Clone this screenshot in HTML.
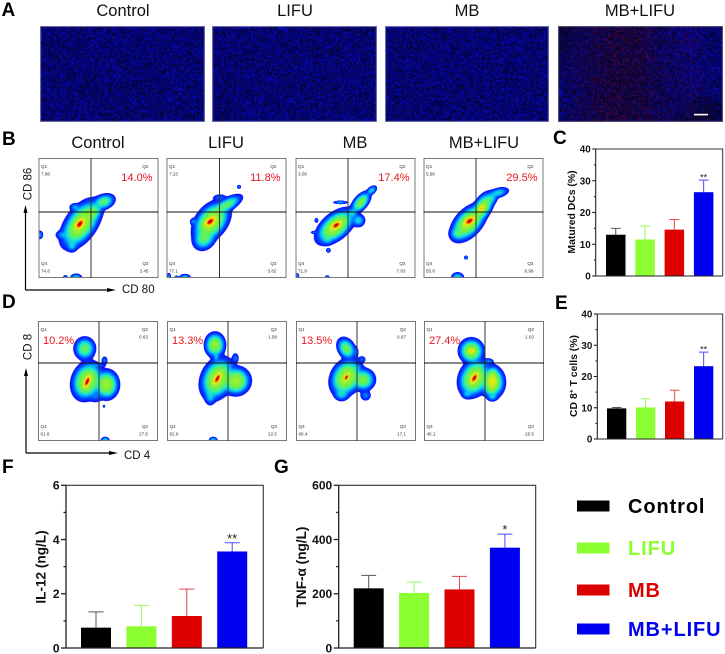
<!DOCTYPE html>
<html lang="en">
<head>
<meta charset="utf-8">
<title>Flow cytometry and cytokine figure</title>
<style>
html,body{margin:0;padding:0;background:#fff;}
#stage{position:relative;width:725px;height:654px;overflow:hidden;background:#fff;font-family:"Liberation Sans",sans-serif;}
canvas{position:absolute;display:block;}
svg{position:absolute;left:0;top:0;}
text{font-family:"Liberation Sans",sans-serif;}
</style>
</head>
<body>
<div id="stage">
<svg id="svg" width="725" height="654" viewBox="0 0 725 654">
  <g fill="#000" font-weight="bold" font-size="19">
    <text x="1.5" y="16">A</text>
    <text x="2" y="145">B</text>
    <text x="553" y="144">C</text>
    <text x="2" y="308">D</text>
    <text x="555" y="309">E</text>
    <text x="2" y="473">F</text>
    <text x="274" y="473">G</text>
  </g>
  <g fill="#111" font-size="16.5" text-anchor="middle">
    <text x="123" y="16">Control</text>
    <text x="295" y="16">LIFU</text>
    <text x="467" y="16">MB</text>
    <text x="640" y="16">MB+LIFU</text>
    <text x="98" y="148">Control</text>
    <text x="226" y="148">LIFU</text>
    <text x="355" y="148">MB</text>
    <text x="484" y="148">MB+LIFU</text>
  </g>
  <g fill="#111" font-size="11.5">
    <text transform="translate(31.5,184) rotate(-90)" text-anchor="middle">CD 86</text>
    <text x="122" y="293">CD 80</text>
    <text transform="translate(31.5,347) rotate(-90)" text-anchor="middle">CD 8</text>
    <text x="124" y="459">CD 4</text>
  </g>
  <g stroke="#000" stroke-width="1.2" fill="#000">
    <path d="M25.5 290V212M25.5 290H108" fill="none"/>
    <path d="M25.5 205l-2 8h4zM116 290l-9-2v4z" stroke="none"/>
    <path d="M26 453V375M26 453H110" fill="none"/>
    <path d="M26 368l-2 8h4zM118 453l-9-2v4z" stroke="none"/>
  </g>
  <g id="flow-overlay"></g>
  <g id="bars"></g>
  <rect x="694" y="113.8" width="14" height="1.6" fill="#fff"/>
  <g>
    <rect x="577" y="500.5" width="32.5" height="11" fill="#000"/>
    <rect x="577" y="542.5" width="32.5" height="11" fill="#8cff32"/>
    <rect x="577" y="584.5" width="32.5" height="11" fill="#dc0000"/>
    <rect x="577" y="623.5" width="32.5" height="11" fill="#0000f0"/>
    <g font-weight="bold" font-size="20" letter-spacing="0.9">
      <text x="628" y="513" fill="#000">Control</text>
      <text x="628" y="555" fill="#8cff32">LIFU</text>
      <text x="628" y="597" fill="#dc0000">MB</text>
      <text x="628" y="636" fill="#0000f0">MB+LIFU</text>
    </g>
  </g>
</svg>
</div>
<script>
/* ---------- bar chart data ---------- */
var groupNames = ["control", "lifu", "mb", "mb-lifu"];
var cMeans = [13, 11.5, 14.6, 26.4];
var cErrors = [2, 4.2, 3.2, 3.8];
var cTicks = [0, 10, 20, 30, 40];
var eMeans = [9.8, 10.1, 12, 23.3];
var eErrors = [0.3, 2.8, 3.6, 4.5];
var eTicks = [0, 10, 20, 30, 40];
var fMeans = [0.75, 0.8, 1.18, 3.56];
var fErrors = [0.58, 0.77, 0.99, 0.32];
var fTicks = [0, 2, 4, 6];
var gMeans = [220, 203, 216, 370];
var gErrors = [48, 40, 48, 50];
var gTicks = [0, 200, 400, 600];

/* ---------- flow cytometry data: [x%, y%, sdLong, sdShort, angle, level] ---------- */
var flowBControl = [[34,45,4,2.2,50,1],[35,45,12,6.5,55,.5],[54,63.5,5.5,3.6,20,.3],[45,55,5,4,45,.3],[27.5,27,3,3.4,0,.18],[30,59,3,2.2,0,.16],[19,36,3.5,2.5,0,.14],[0.5,36,2,2.4,0,.16],[31,.5,3,2,0,.2],[22,.5,1.4,1.4,0,.14]];
var flowBLifu = [[36,47,4,2.2,40,1],[37,47,10,6.5,52,.5],[50,61,8,3.2,30,.3],[31,33,6,5,50,.3],[60,76,1.2,1.2,0,.14],[22,47,2,2,0,.14],[44,67,4,2,0,.12],[15,.8,3,1.7,0,.18],[1.5,1,1.3,2.2,0,.15],[8,.3,1.3,1.3,0,.14]];
var flowBMb = [[33.5,44,3.6,1.9,35,1],[33,43,10,5.5,40,.5],[54,63,6,3.2,50,.36],[63,73,3.2,2,40,.2],[52,48,3.5,3.5,0,.2],[47,54,3,3,0,.18],[27,23,1.4,1.4,0,.14],[26,32,3,3,70,.16],[37,63,4,1,0,.16],[17,48,1.2,1.5,0,.12],[15,38,2,.9,0,.12],[26,.6,1.4,1.2,0,.14],[1,2,1.2,1.4,0,.14]];
var flowBMbLifu = [[38,47.5,4,2.2,35,1],[37,46,9.5,5.5,48,.5],[48,58,2.8,2,50,.72],[49,59,7.5,4,60,.42],[62,71,5.5,2.6,15,.2],[56,66,4,3,50,.2],[28,37,4,3.5,0,.22],[35,17,1.2,1.2,0,.14],[28,.5,3.2,2.6,0,.22]];
var flowDControl = [[41,49.5,4.4,1.7,65,1],[41,50,8.5,6.5,70,.5],[57,47,5.5,6.5,0,.46],[39,77,5,5.4,0,.32],[55.5,67,1.8,2.5,0,.13],[49,63,5,1.5,0,.12],[55,29,.8,1,0,.12],[56,.5,2.2,1.8,0,.22],[48,37,4,3.5,0,.12]];
var flowDLifu = [[42,52,4.2,1.7,60,1],[42,52,9.5,6.8,65,.5],[57.5,50,6.4,6.2,20,.46],[40,80,4.6,5.6,0,.42],[41,70,1.8,3,0,.16],[57,69,2,3,0,.13],[51,63,4,1.5,0,.12],[36,37,3,4.5,0,.18],[38.5,.5,2.2,1.8,0,.22]];
var flowDMb = [[42,53,2.6,1.2,55,1],[42,53,8.5,6.5,60,.5],[56,51,5.5,5.2,10,.36],[42,77,4,5.5,30,.33],[50,74,1.5,3.5,0,.12],[55,68,2.2,2,0,.12],[51,62,3,1.5,0,.12],[38,39,4,3.5,0,.2],[58,38,3,3,0,.14]];
var flowDMbLifu = [[42,52.5,3.8,1.8,60,1],[42,52.5,8.5,6.5,65,.5],[57,50,6,3,85,.6],[57,49,5.5,7,0,.46],[39.5,75,2.2,1.8,0,.68],[39.5,75,5.5,5.6,20,.45],[54,66,2.8,2,0,.14],[47,63,4,1.5,0,.14],[36,39,3,2.5,0,.16],[57,37,3,2.5,0,.18]];

var topRowPercents = ["14.0%", "11.8%", "17.4%", "29.5%"];
var bottomRowPercents = ["10.2%", "13.3%", "13.5%", "27.4%"];
var topQ1 = ["7.88", "7.23", "3.00", "5.90"];
var topQ3 = ["3.45", "3.82", "7.83", "8.99"];
var topQ4 = ["74.8", "77.1", "71.9", "55.6"];
var bottomQ2 = ["0.63", "1.58", "0.97", "1.03"];
var bottomQ3 = ["27.6", "22.5", "17.1", "26.5"];
var bottomQ4 = ["61.6", "62.6", "68.4", "45.1"];

var NS = "http://www.w3.org/2000/svg";
var stage = document.getElementById("stage");
var barsRoot = document.getElementById("bars");
var flowRoot = document.getElementById("flow-overlay");

function svgEl(parent, tag, attrs) {
  var el = document.createElementNS(NS, tag);
  for (var k in attrs) el.setAttribute(k, attrs[k]);
  parent.appendChild(el);
  return el;
}

/* ---------- microscopy noise panels ---------- */
function prng(seed) {
  return function () {
    seed |= 0; seed = seed + 0x6D2B79F5 | 0;
    var t = Math.imul(seed ^ seed >>> 15, 1 | seed);
    t = t + Math.imul(t ^ t >>> 7, 61 | t) ^ t;
    return ((t ^ t >>> 14) >>> 0) / 4294967296;
  };
}
function microscopy(x, y, w, h, seed, name, merged) {
  var c = document.createElement("canvas");
  c.width = w; c.height = h;
  c.style.left = x + "px"; c.style.top = y + "px";
  
  
  stage.insertBefore(c, stage.firstChild);
  var ctx = c.getContext("2d");
  var img = ctx.createImageData(w, h);
  var rnd = prng(seed);
  for (var j = 0; j < h; j++) {
    for (var i = 0; i < w; i++) {
      var p = (j * w + i) * 4;
      var u = i / w, v = j / h;
      var r1 = rnd(), r2 = rnd();
      var b = 35 + 175 * Math.pow(r1, 1.3);
      var r = 14 * r2 * r2;
      if (merged) {
        var zone = Math.exp(-Math.pow((u - 0.38) / 0.3, 2));
        var hot = Math.exp(-Math.pow((u - 0.8) / 0.08, 2));
        var dark = Math.exp(-Math.pow((u - 0.88) / 0.14, 2) - Math.pow((v - 0.95) / 0.2, 2));
        var corner = Math.exp(-Math.pow(u / 0.1, 2) - Math.pow(v / 0.3, 2));
        b = b * (1 - 0.45 * zone) * (1 - 0.5 * dark) * (1 - 0.5 * corner);
        r = r + (zone * 85 + hot * 45) * Math.pow(r2, 5) + zone * 6;
      }
      img.data[p] = r;
      img.data[p + 1] = 2 + 8 * r1 * r1;
      img.data[p + 2] = b;
      img.data[p + 3] = 255;
    }
  }
  ctx.putImageData(img, 0, 0);
  ctx.strokeStyle = merged ? "#55557a" : "#7474b8";
  ctx.lineWidth = 1;
  ctx.strokeRect(0.5, 0.5, w - 1, h - 1);
}
microscopy(40, 26, 165, 96, 11, "micrograph-control", false);
microscopy(212, 26, 165, 96, 23, "micrograph-lifu", false);
microscopy(385, 26, 164, 96, 37, "micrograph-mb", false);
microscopy(558, 26, 165, 96, 51, "micrograph-mb-lifu", true);

/* ---------- density plots ---------- */
var colorStops = [[.05,10,10,255],[.11,0,80,255],[.17,0,190,255],[.24,50,240,170],[.33,110,240,70],[.55,190,240,40],[.72,255,225,0],[.86,255,110,0],[1,215,0,0]];
function densityColor(f) {
  if (f <= colorStops[0][0]) return colorStops[0];
  for (var i = 1; i < colorStops.length; i++) {
    if (f <= colorStops[i][0]) {
      var a = colorStops[i - 1], b = colorStops[i];
      var t = (f - a[0]) / (b[0] - a[0]);
      return [f, a[1] + (b[1] - a[1]) * t, a[2] + (b[2] - a[2]) * t, a[3] + (b[3] - a[3]) * t];
    }
  }
  return colorStops[colorStops.length - 1];
}
function drawDensity(x, y, w, h, comps, name) {
  var S = 2, P = 2.5;
  var c = document.createElement("canvas");
  c.width = w * S; c.height = h * S;
  c.style.left = x + "px"; c.style.top = y + "px";
  c.style.width = w + "px"; c.style.height = h + "px";
  c.style.filter = "blur(0.3px)";
  
  
  stage.insertBefore(c, stage.firstChild);
  var ctx = c.getContext("2d");
  var img = ctx.createImageData(c.width, c.height);
  var prepared = comps.map(function (k) {
    var an = k[4] * Math.PI / 180;
    return [k[0], k[1], k[2], k[3], Math.cos(an), Math.sin(an), k[5]];
  });
  for (var j = 0; j < c.height; j++) {
    for (var i = 0; i < c.width; i++) {
      var dx = (i + 0.5) / c.width * 100;
      var dy = 100 - (j + 0.5) / c.height * 100;
      var s = 0;
      for (var n = 0; n < prepared.length; n++) {
        var g = prepared[n];
        var ex = dx - g[0], ey = dy - g[1];
        var a = (ex * g[4] + ey * g[5]) / g[2];
        var b = (-ex * g[5] + ey * g[4]) / g[3];
        s += Math.pow(g[6] * Math.exp(-0.5 * (a * a + b * b)), P);
      }
      var f = Math.pow(s, 1 / P);
      if (f < 0.045) continue;
      var col = densityColor(Math.min(f, 1));
      var p = (j * c.width + i) * 4;
      img.data[p] = col[1];
      img.data[p + 1] = col[2];
      img.data[p + 2] = col[3];
      img.data[p + 3] = Math.min(1, (f - 0.045) / 0.01) * 255;
    }
  }
  ctx.putImageData(img, 0, 0);
}
function smallText(x, y, str, anchor, name) {
  var t = svgEl(flowRoot, "text", {x: x, y: y, "font-size": 4.6, fill: "#333", "text-anchor": anchor});
  t.textContent = str;
  
  
}
function flowPlot(x, y, vx, hy, comps, idx, row, pct, q1, q2, q3, q4) {
  var w = 120, h = 120, id = row + "-" + groupNames[idx];
  drawDensity(x, y, w, h, comps, "density-" + id);
  var frame = svgEl(flowRoot, "rect", {x: x + .5, y: y + .5, width: w - 1, height: h - 1, fill: "none", stroke: "#777", "stroke-width": 1});
  
  
  var vLine = svgEl(flowRoot, "line", {x1: vx, x2: vx, y1: y, y2: y + h, stroke: "#333", "stroke-width": 1});
  
  
  var hLine = svgEl(flowRoot, "line", {x1: x, x2: x + w, y1: hy, y2: hy, stroke: "#111", "stroke-width": 1});
  
  
  var top = row === "b";
  var r = x + w - 10;
  smallText(x + 2.5, y + 10, "Q1", "start", "q1-label-" + id);
  smallText(r, y + 10, "Q2", "end", "q2-label-" + id);
  smallText(x + 2.5, y + 107, "Q4", "start", "q4-label-" + id);
  smallText(r, y + 107, "Q3", "end", "q3-label-" + id);
  if (q1) smallText(x + 2.5, y + 17.5, q1, "start", "q1-value-" + id);
  if (q2) smallText(r, y + 17.5, q2, "end", "q2-value-" + id);
  smallText(x + 2.5, y + 114.5, q4, "start", "q4-value-" + id);
  smallText(r, y + 114.5, q3, "end", "q3-value-" + id);
  var red = svgEl(flowRoot, "text", top
    ? {x: x + w - 6, y: y + 23, "font-size": 11, fill: "#e8141c", "text-anchor": "end"}
    : {x: x + 5, y: y + 23, "font-size": 11, fill: "#e8141c"});
  red.textContent = pct;
  
  
}
var topSets = [flowBControl, flowBLifu, flowBMb, flowBMbLifu];
var bottomSets = [flowDControl, flowDLifu, flowDMb, flowDMbLifu];
[[38.5,91],[166.5,219.5],[295.5,348],[423.5,476]].forEach(function (g, i) {
  flowPlot(g[0], 158, g[1], 212, topSets[i], i, "b", topRowPercents[i], topQ1[i], "", topQ3[i], topQ4[i]);
});
[[38,99],[167,228],[296,357],[424,485]].forEach(function (g, i) {
  flowPlot(g[0], 321, g[1], 363, bottomSets[i], i, "d", bottomRowPercents[i], "", bottomQ2[i], bottomQ3[i], bottomQ4[i]);
});

/* ---------- bar charts ---------- */
var barFill = ["#000000", "#8cff32", "#dc0000", "#0000f0"];
var errColor = ["#555555", "#9cf860", "#e8484c", "#4a4aff"];

function barChart(o) {
  var g = svgEl(barsRoot, "g", {});
  
  
  var yMax = o.ticks[o.ticks.length - 1];
  function yScale(v) { return o.bottom - (v / yMax) * (o.bottom - o.top); }
  function xBand(i) { return o.barStart + i * o.barStep; }

  var box = svgEl(g, "path", {d: "M" + o.left + " " + o.top + "H" + o.right + "V" + o.bottom, fill: "none", stroke: "#333", "stroke-width": o.boxWidth});
  
  

  o.means.forEach(function (m, i) {
    var bx = xBand(i), top = yScale(m), errTop = yScale(m + o.errors[i]);
    var cx = bx + o.barWidth / 2, cap = o.barWidth * o.capRatio / 2;
    var err = svgEl(g, "path", {d: "M" + cx + " " + top + "V" + errTop + "M" + (cx - cap) + " " + errTop + "H" + (cx + cap), stroke: errColor[i], "stroke-width": 1, fill: "none"});
    
    
    var bar = svgEl(g, "rect", {x: bx, y: top, width: o.barWidth, height: o.bottom - top, fill: barFill[i]});
    
    
  });

  var last = o.means.length - 1;
  var star = svgEl(g, "text", {x: xBand(last) + o.barWidth / 2, y: yScale(o.means[last] + o.errors[last]) + o.starOffset, "font-size": o.starSize, "text-anchor": "middle", fill: "#222", "font-weight": o.starWeight});
  star.textContent = o.star;
  
  

  var axis = svgEl(g, "path", {d: "M" + o.left + " " + o.top + "V" + o.bottom + "H" + o.right, fill: "none", stroke: "#222", "stroke-width": o.axisWidth});
  
  

  o.ticks.forEach(function (t, i) {
    var ty = yScale(t);
    var tick = svgEl(g, "line", {x1: o.left - o.tickLen, x2: o.left, y1: ty, y2: ty, stroke: "#222", "stroke-width": o.axisWidth});
    
    
    var label = svgEl(g, "text", {x: o.left - o.tickLen - 1.5, y: ty + o.fontSize * 0.36, "font-size": o.fontSize, "font-weight": "bold", "text-anchor": "end", fill: "#111"});
    label.textContent = t;
    
    
    if (i < o.ticks.length - 1) {
      var my = yScale((t + o.ticks[i + 1]) / 2);
      var minor = svgEl(g, "line", {x1: o.left - o.tickLen / 2, x2: o.left, y1: my, y2: my, stroke: "#222", "stroke-width": o.axisWidth});
      
      
    }
  });

  var title = svgEl(g, "text", {transform: "translate(" + o.titleX + "," + o.titleY + ") rotate(-90)", "text-anchor": "middle", "font-size": o.titleSize, "font-weight": "bold", fill: "#111"});
  
  
  if (o.titleSup) {
    var a = svgEl(title, "tspan", {});
    a.textContent = o.title[0];
    var sup = svgEl(title, "tspan", {dy: -3.5, "font-size": o.titleSize * 0.65});
    sup.textContent = o.titleSup;
    var b = svgEl(title, "tspan", {dy: 3.5});
    b.textContent = o.title[1];
  } else {
    title.textContent = o.title;
  }
}

barChart({id: "matured-dcs", means: cMeans, errors: cErrors, ticks: cTicks, left: 595.7, right: 722.7, top: 149, bottom: 276,
  barStart: 606, barWidth: 19.5, barStep: 29.3, capRatio: 0.5, boxWidth: 1, axisWidth: 1.1, tickLen: 3.5, fontSize: 9.8,
  title: "Matured DCs (%)", titleX: 575, titleY: 212, titleSize: 10.4, star: "**", starSize: 9, starWeight: "normal", starOffset: 0.5});
barChart({id: "cd8-t-cells", means: eMeans, errors: eErrors, ticks: eTicks, left: 597.3, right: 722.7, top: 314, bottom: 439,
  barStart: 607, barWidth: 19.3, barStep: 29, capRatio: 0.5, boxWidth: 1, axisWidth: 1.1, tickLen: 3.5, fontSize: 9.8,
  title: ["CD 8", " T cells (%)"], titleSup: "+", titleX: 577, titleY: 376, titleSize: 10.4, star: "**", starSize: 9, starWeight: "normal", starOffset: 0.5});
barChart({id: "il-12", means: fMeans, errors: fErrors, ticks: fTicks, left: 66, right: 263.3, top: 485.3, bottom: 648,
  barStart: 81, barWidth: 30, barStep: 45.4, capRatio: 0.5, boxWidth: 1.1, axisWidth: 1.3, tickLen: 5, fontSize: 12,
  title: "IL-12 (ng/L)", titleX: 45.5, titleY: 567, titleSize: 13.6, star: "**", starSize: 13, starWeight: "normal", starOffset: 0});
barChart({id: "tnf-alpha", means: gMeans, errors: gErrors, ticks: gTicks, left: 338.7, right: 535.7, top: 485.3, bottom: 648,
  barStart: 353.7, barWidth: 30, barStep: 45.4, capRatio: 0.5, boxWidth: 1.1, axisWidth: 1.3, tickLen: 5, fontSize: 12,
  title: "TNF-α (ng/L)", titleX: 306, titleY: 567, titleSize: 13.6, star: "*", starSize: 13, starWeight: "normal", starOffset: 0});
</script>
</body>
</html>
